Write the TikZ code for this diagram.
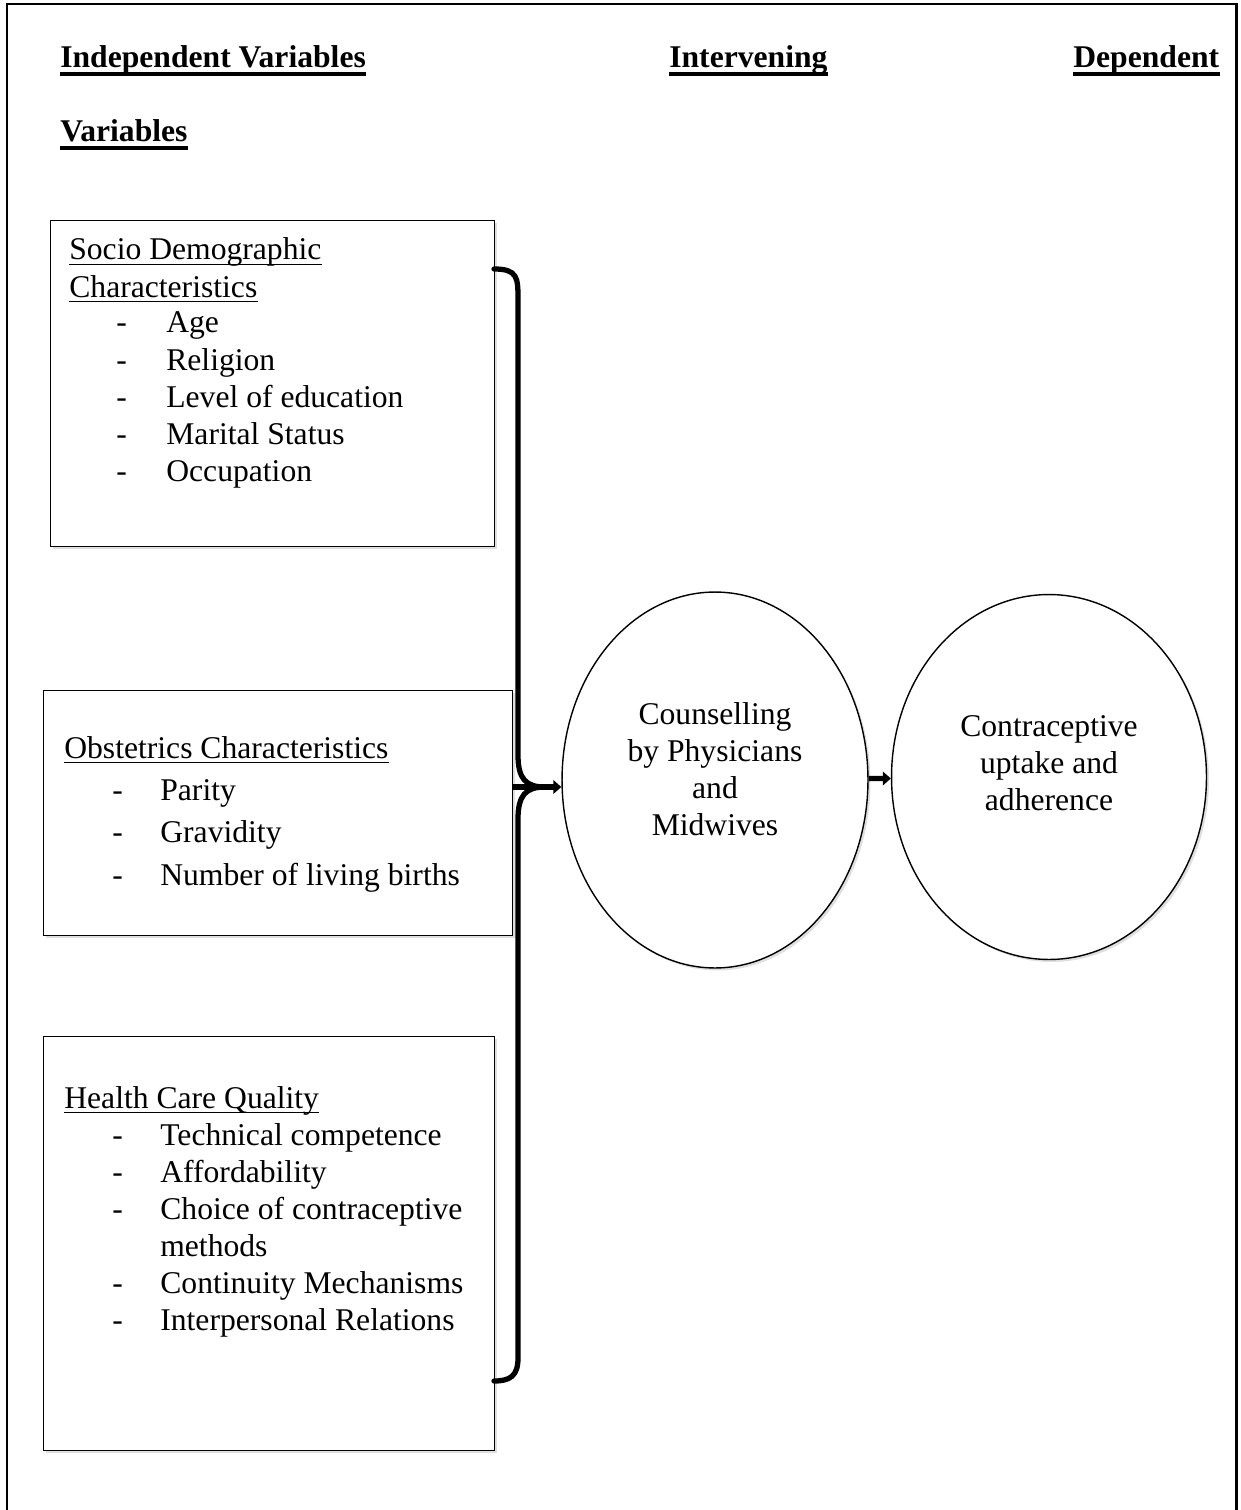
\documentclass[tikz,border=0pt]{standalone}
\usepackage{fontspec}
\setmainfont{Liberation Serif}
\usetikzlibrary{arrows.meta,shadows,shapes.geometric}

\tikzset{
  box/.style={draw, line width=0.8pt, fill=white, anchor=north west, inner sep=0pt,
    drop shadow={opacity=0.25, shadow xshift=0.05cm, shadow yshift=-0.05cm}},
  oval/.style={ellipse, draw, line width=0.8pt, fill=white, inner sep=0pt,
    drop shadow={opacity=0.25, shadow xshift=0.05cm, shadow yshift=-0.05cm}},
  txt/.style={anchor=base west, inner sep=0pt},
  ul/.style={append after command={([yshift=-2.4pt]\tikzlastnode.base west)
    edge[draw, line width=0.8pt] ([yshift=-2.4pt]\tikzlastnode.base east)}},
  headul/.style={font=\fontsize{18}{21}\selectfont\bfseries,
    append after command={([yshift=-3.4pt]\tikzlastnode.base west)
    edge[draw, line width=1.8pt] ([yshift=-3.4pt]\tikzlastnode.base east)}},
  brace/.style={line width=3pt, line cap=round},
  arr/.style={line width=3pt, -{Triangle[length=0.16cm, width=0.27cm]}}
}

\begin{document}
\begin{tikzpicture}[x=0.02cm, y=-0.02cm, font=\fontsize{18}{21}\selectfont]
\useasboundingbox (0,0) rectangle (1240,1510);

% frame
\draw[line width=1.7pt] (7,1530) -- (7,4) -- (1236,4) -- (1236,1530);

% headings
\node[txt, headul] (hind) at (60,68) {Independent Variables};
\node[txt, headul] (hvar) at (60,142) {Variables};
\node[txt, headul] (hint) at (669,68) {Intervening};
\node[txt, headul] (hdep) at (1073,68) {Dependent};

% boxes
\node[box, minimum width=8.88cm, minimum height=6.52cm] (socio) at (50,220) {};
\node[box, minimum width=9.38cm, minimum height=4.90cm] (obst) at (43,690) {};
\node[box, minimum width=9.02cm, minimum height=8.28cm] (care) at (43,1036) {};

% socio demographic
\node[txt, ul] (sociot) at (69,260) {Socio Demographic};
\node[txt, ul] (sociot2) at (69,297) {Characteristics};
\foreach \lbl [count=\i from 0] in {Age, Religion, Level of education, Marital Status, Occupation} {
  \node[txt] (socdash-\i) at (116,333+37*\i) {-};
  \node[txt] (soc-\i) at (166,333+37*\i) {\lbl};
}

% obstetrics
\node[txt, ul] (obstt) at (64,758) {Obstetrics Characteristics};
\foreach \lbl [count=\i from 0] in {Parity, Gravidity, Number of living births} {
  \node[txt] (obsdash-\i) at (112,800+42.5*\i) {-};
  \node[txt] (obs-\i) at (160,800+42.5*\i) {\lbl};
}

% health care quality
\node[txt, ul] (caret) at (64,1108) {Health Care Quality};
\foreach \lbl/\y in {Technical competence/1145, Affordability/1182, Choice of contraceptive/1219,
                     Continuity Mechanisms/1293, Interpersonal Relations/1330} {
  \node[txt] at (112,\y) {-};
  \node[txt] at (160,\y) {\lbl};
}
\node[txt] (care-m) at (160,1256) {methods};

% ellipses
\node[oval, minimum width=6.12cm, minimum height=7.52cm] (couns) at (715,780) {};
\node[oval, minimum width=6.30cm, minimum height=7.30cm] (uptake) at (1049,777) {};
\node[align=center] (counst) at (715,769) {Counselling\\by Physicians\\and\\Midwives};
\node[align=center] (uptaket) at (1049,763) {Contraceptive\\uptake and\\adherence};

% brace
\coordinate (btop) at (494,269);
\coordinate (bbot) at (494,1381);
\coordinate (tip) at (545,787);
\draw[brace] (btop) .. controls (518,269) and (518,278) .. (518,300) -- (518,755)
  .. controls (518,779) and (526,787) .. (tip);
\draw[brace] (tip) .. controls (526,787) and (518,795) .. (518,819) -- (518,1358)
  .. controls (518,1376) and (510,1381) .. (bbot);

% arrows
\draw[arr] (obst.east |- tip) -- (tip -| couns.west);
\draw[arr] (couns) -- (uptake);

\end{tikzpicture}
\end{document}
